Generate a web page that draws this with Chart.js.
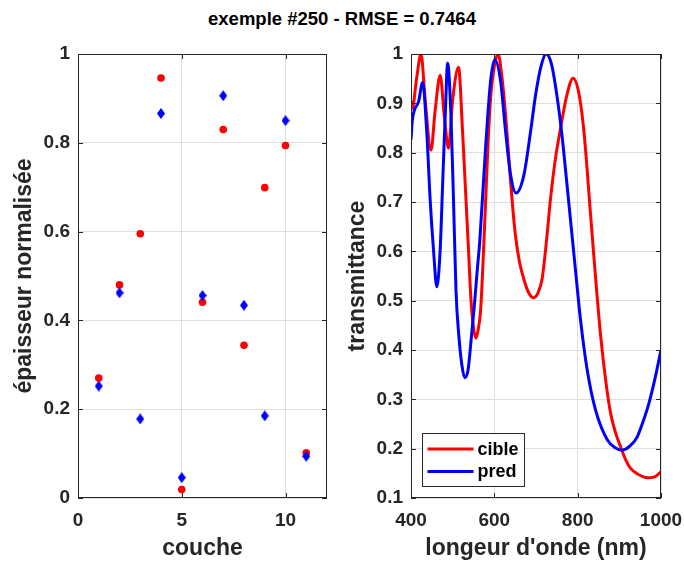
<!DOCTYPE html>
<html>
<head>
<meta charset="utf-8">
<script src="https://cdn.jsdelivr.net/npm/chart.js@4.4.1/dist/chart.umd.min.js"></script>
<style>
  body { margin: 0; background: #fff; }
  #page { position: relative; width: 684px; height: 564px; }
  #titre {
    position: absolute; left: 0; top: 8px; width: 684px; text-align: center;
    font: bold 18.5px "Liberation Sans", Arial, sans-serif; line-height: 22px; color: #000;
  }
  canvas { position: absolute; top: 0; }
</style>
</head>
<body>
<div id="page">
  <div id="titre">exemple #250 - RMSE = 0.7464</div>
  <canvas id="couchesChart" width="342" height="564" style="left:0"></canvas>
  <canvas id="spectreChart" width="342" height="564" style="left:342px"></canvas>
</div>
<script>
// épaisseurs par couche
const couches = [1, 2, 3, 4, 5, 6, 7, 8, 9, 10, 11];
const epaisseurCible = [0.27, 0.48, 0.595, 0.946, 0.019, 0.441, 0.83, 0.344, 0.699, 0.794, 0.102];
const epaisseurPred = [0.252, 0.462, 0.178, 0.866, 0.046, 0.456, 0.906, 0.434, 0.185, 0.85, 0.094];

// spectres (longueur d'onde en nm, transmittance)
const lambdaCible = [400, 403, 414, 424, 434, 448, 458, 470, 480, 490, 500, 514, 524, 532, 538, 544, 550, 556, 561, 567, 573, 579, 585, 591, 600, 609, 618, 627, 633, 639, 645, 651, 660, 671, 682, 693, 705, 715, 725, 735, 747, 759, 775, 789, 803, 815, 831, 843, 855, 867, 879, 891, 903, 915, 927, 945, 967, 985, 1000];
const transCible = [0.905, 0.89, 0.954, 1.0, 0.907, 0.805, 0.886, 0.957, 0.873, 0.809, 0.907, 0.973, 0.839, 0.704, 0.603, 0.501, 0.445, 0.424, 0.44, 0.48, 0.58, 0.70, 0.82, 0.91, 0.975, 1.0, 0.955, 0.877, 0.81, 0.742, 0.68, 0.63, 0.58, 0.543, 0.517, 0.506, 0.516, 0.546, 0.62, 0.708, 0.79, 0.85, 0.92, 0.951, 0.92, 0.843, 0.674, 0.546, 0.43, 0.34, 0.272, 0.232, 0.204, 0.178, 0.160, 0.148, 0.141, 0.143, 0.153];

const lambdaPred = [400, 403, 408, 418, 428, 438, 446, 454, 462, 470, 476, 482, 488, 496, 502, 508, 515, 522, 529, 537, 545, 552, 559, 565, 579, 591, 601, 615, 627, 639, 652, 671, 687, 699, 712, 724, 737, 751, 763, 775, 785, 795, 807, 823, 843, 871, 890, 907, 925, 943, 957, 971, 985, 1000];
const transPred = [0.826, 0.864, 0.886, 0.903, 0.942, 0.839, 0.704, 0.603, 0.528, 0.603, 0.738, 0.873, 0.981, 0.873, 0.704, 0.52, 0.427, 0.37, 0.344, 0.36, 0.427, 0.49, 0.562, 0.62, 0.81, 0.945, 0.989, 0.945, 0.843, 0.755, 0.718, 0.755, 0.843, 0.917, 0.975, 1.0, 0.98, 0.911, 0.83, 0.73, 0.645, 0.56, 0.46, 0.359, 0.278, 0.218, 0.202, 0.197, 0.205, 0.224, 0.255, 0.292, 0.34, 0.40];

const yTicksCouches = { min: 0, max: 1, pas: 0.2 };
const yTicksSpectre = { min: 0.1, max: 1, pas: 0.1 };

const police = "'Liberation Sans', Arial, sans-serif";
const gris = '#262626';
const grille = '#dfdfdf';

// losange bleu façon matlab
function losange() {
  const c = document.createElement('canvas');
  c.width = 8; c.height = 11;
  const g = c.getContext('2d');
  g.fillStyle = '#0000ff';
  g.beginPath();
  g.moveTo(4, 0); g.lineTo(8, 5.5); g.lineTo(4, 11); g.lineTo(0, 5.5);
  g.closePath(); g.fill();
  return c;
}

// cadre + petites graduations vers l'intérieur
const cadre = {
  id: 'cadre',
  afterDraw(chart) {
    const { ctx, chartArea: a, scales } = chart;
    const L = 5;
    ctx.save();
    ctx.strokeStyle = gris;
    ctx.lineWidth = 1;
    ctx.beginPath();
    scales.x.ticks.forEach(t => {
      const px = Math.round(scales.x.getPixelForValue(t.value)) + 0.5;
      ctx.moveTo(px, a.bottom); ctx.lineTo(px, a.bottom - L);
      ctx.moveTo(px, a.top); ctx.lineTo(px, a.top + L);
    });
    scales.y.ticks.forEach(t => {
      const py = Math.round(scales.y.getPixelForValue(t.value)) + 0.5;
      ctx.moveTo(a.left, py); ctx.lineTo(a.left + L, py);
      ctx.moveTo(a.right, py); ctx.lineTo(a.right - L, py);
    });
    ctx.stroke();
    ctx.strokeRect(Math.round(a.left) + 0.5, Math.round(a.top) + 0.5, Math.round(a.width) - 1, Math.round(a.height) - 1);
    ctx.restore();
  }
};

// légende dans le coin bas gauche
const legende = {
  id: 'legende',
  afterDraw(chart) {
    const { ctx, chartArea: a } = chart;
    const x0 = Math.round(a.left + 11) + 0.5, y0 = Math.round(a.bottom - 65) + 0.5;
    ctx.save();
    ctx.fillStyle = '#fff';
    ctx.fillRect(x0, y0, 102, 53);
    ctx.strokeStyle = gris;
    ctx.lineWidth = 1;
    ctx.strokeRect(x0, y0, 102, 53);
    ctx.font = 'bold 18px ' + police;
    ctx.textBaseline = 'middle';
    chart.data.datasets.forEach((d, i) => {
      const y = y0 + 15.5 + i * 22.5;
      ctx.strokeStyle = d.borderColor;
      ctx.lineWidth = 3;
      ctx.beginPath();
      ctx.moveTo(x0 + 5, y); ctx.lineTo(x0 + 51, y);
      ctx.stroke();
      ctx.fillStyle = '#000';
      ctx.fillText(d.label, x0 + 55, y + 1);
    });
    ctx.restore();
  }
};

const fmt = v => String(Math.round(v * 10) / 10);

function axe(texte, opts, ticks, titrePad, taille) {
  return Object.assign({
    type: 'linear',
    border: { display: false },
    grid: { color: grille, drawTicks: false },
    ticks: Object.assign({ color: gris, font: { family: police, size: 19, weight: 'bold' }, maxRotation: 0, callback: fmt }, ticks),
    title: { display: true, text: texte, color: gris, padding: titrePad, font: { family: police, size: 23, weight: 'bold' } },
    afterFit: s => {
      // taille fixe, pas de marge auto pour les étiquettes en bout d'axe
      if (s.isHorizontal()) s.height = taille; else s.width = taille;
      s.paddingLeft = 0; s.paddingRight = 0; s.paddingTop = 0; s.paddingBottom = 0;
    }
  }, opts);
}

Chart.defaults.animation = false;

new Chart(document.getElementById('couchesChart'), {
  type: 'scatter',
  data: {
    datasets: [{
      label: 'cible',
      data: couches.map((c, i) => ({ x: c, y: epaisseurCible[i] })),
      pointRadius: 3.8,
      pointBackgroundColor: '#ff0000',
      pointBorderWidth: 0,
      order: 2
    }, {
      label: 'pred',
      data: couches.map((c, i) => ({ x: c, y: epaisseurPred[i] })),
      pointStyle: losange(),
      pointRadius: 5,
      order: 1
    }]
  },
  options: {
    responsive: false,
    layout: { autoPadding: false, padding: { top: 54, right: 15, left: 0, bottom: 0 } },
    plugins: { legend: { display: false }, tooltip: { enabled: false } },
    scales: {
      x: axe('couche', { min: 0, max: 12 }, { stepSize: 5, includeBounds: false, padding: 11 }, { top: 0, bottom: 2 }, 66),
      y: axe('épaisseur normalisée', { min: yTicksCouches.min, max: yTicksCouches.max },
        { stepSize: yTicksCouches.pas, padding: 8 }, { top: 11, bottom: 0 }, 78)
    }
  },
  plugins: [cadre]
});

new Chart(document.getElementById('spectreChart'), {
  type: 'line',
  data: {
    datasets: [{
      label: 'cible',
      data: lambdaCible.map((l, i) => ({ x: l, y: transCible[i] })),
      borderColor: '#ff0000',
      borderWidth: 3,
      pointRadius: 0,
      cubicInterpolationMode: 'monotone',
      order: 2
    }, {
      label: 'pred',
      data: lambdaPred.map((l, i) => ({ x: l, y: transPred[i] })),
      borderColor: '#0000ff',
      borderWidth: 3,
      pointRadius: 0,
      cubicInterpolationMode: 'monotone',
      order: 1
    }]
  },
  options: {
    responsive: false,
    layout: { autoPadding: false, padding: { top: 54, right: 23, left: 0, bottom: 0 } },
    plugins: { legend: { display: false }, tooltip: { enabled: false } },
    scales: {
      x: axe("longeur d'onde (nm)", { min: 400, max: 1000 },
        { stepSize: 200, padding: 11, callback: v => String(v) }, { top: 0, bottom: 2 }, 66),
      y: axe('transmittance', { min: yTicksSpectre.min, max: yTicksSpectre.max },
        { stepSize: yTicksSpectre.pas, padding: 8 }, { top: 2, bottom: 0 }, 69)
    }
  },
  plugins: [cadre, legende]
});
</script>
</body>
</html>
